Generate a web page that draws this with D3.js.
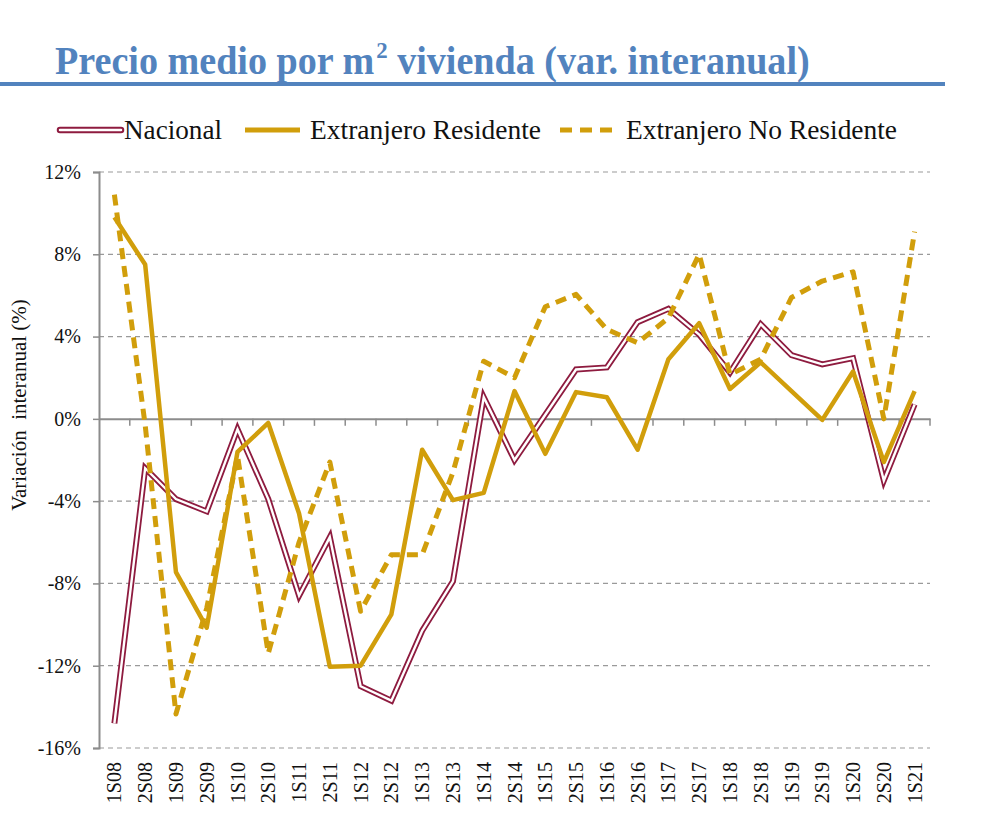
<!DOCTYPE html>
<html><head><meta charset="utf-8">
<script src="https://cdn.jsdelivr.net/npm/d3@7"></script>
<style>body{margin:0;background:#fff;} svg{display:block;}</style>
</head><body>
<script>
const categories = ["1S08","2S08","1S09","2S09","1S10","2S10","1S11","2S11","1S12","2S12","1S13","2S13","1S14","2S14","1S15","2S15","1S16","2S16","1S17","2S17","1S18","2S18","1S19","2S19","1S20","2S20","1S21"];
const nacional = [-14.8,-2.4,-3.9,-4.5,-0.5,-3.9,-8.6,-5.75,-13.0,-13.7,-10.3,-7.9,1.05,-2.0,0.2,2.4,2.5,4.7,5.35,4.1,2.25,4.6,3.1,2.65,2.95,-3.0,0.7];
const residente = [9.8,7.5,-7.45,-10.15,-1.6,-0.2,-4.6,-12.05,-12.0,-9.5,-1.5,-3.95,-3.6,1.35,-1.7,1.3,1.05,-1.5,2.9,4.65,1.45,2.75,1.35,-0.05,2.3,-2.1,1.35];
const noResidente = [10.9,-0.3,-14.35,-9.2,-1.8,-11.4,-6.0,-2.1,-9.35,-6.6,-6.6,-2.6,2.8,2.0,5.45,6.05,4.35,3.7,4.9,8.0,2.15,2.9,5.9,6.7,7.15,0.0,9.1];
const yTicks = [12,8,4,0,-4,-8,-12,-16];
const seriesNames = ["Nacional","Extranjero Residente","Extranjero No Residente"];

const W = 1000, H = 822;
const maroon = "#8E1B3F", gold = "#D19E0B", axisCol = "#8c8c8c", titleCol = "#5283BE";
const svg = d3.select("body").append("svg").attr("width", W).attr("height", H);
const serif = "'Liberation Serif','Times New Roman',serif";

// Title
const title = svg.append("text").attr("x", 55).attr("y", 74)
  .attr("font-family", serif).attr("font-weight", "bold").attr("font-size", 40)
  .attr("fill", titleCol);
title.append("tspan").text("Precio medio por m");
title.append("tspan").attr("dx", 2).attr("dy", -16).attr("font-size", 24).text("2");
title.append("tspan").attr("dy", 16).text(" vivienda (var. interanual)");
// fit title to reference width
const tw = title.node().getComputedTextLength();
title.attr("transform", `translate(55,0) scale(${753 / tw},1) translate(-55,0)`);
svg.append("rect").attr("x", 0).attr("y", 82).attr("width", 945).attr("height", 4).attr("fill", titleCol);

// Scales
const x = d3.scaleBand().domain(categories).range([99, 930]).padding(0);
const y = d3.scaleLinear().domain([-16, 12]).range([748, 172]);
const cx = d => x(d) + x.bandwidth() / 2;

// Gridlines
svg.append("g").selectAll("line").data(yTicks.filter(t => t !== 0)).join("line")
  .attr("x1", 99).attr("x2", 930).attr("y1", d => y(d)).attr("y2", d => y(d))
  .attr("stroke", "#9a9a9a").attr("stroke-width", 1.2).attr("stroke-dasharray", "5,4");

// Y axis
const yAxis = svg.append("g").attr("transform", "translate(99,0)")
  .call(d3.axisLeft(y).tickValues(yTicks).tickSize(6).tickPadding(12).tickFormat(d => d + "%"));
yAxis.select(".domain").attr("stroke", axisCol).attr("stroke-width", 2);
yAxis.selectAll(".tick line").attr("stroke", axisCol).attr("stroke-width", 1.5);
yAxis.selectAll("text").attr("font-family", serif).attr("font-size", 20).attr("fill", "#111");

// X axis at 0
const xAxis = svg.append("g").attr("transform", `translate(0,${y(0)})`)
  .call(d3.axisBottom(x).tickSize(0).tickFormat(""));
xAxis.select(".domain").attr("stroke", axisCol).attr("stroke-width", 2);
xAxis.selectAll(".tick").remove();
xAxis.selectAll("line.bt").data(categories).join("line").attr("class", "bt")
  .attr("x1", d => x(d) + x.bandwidth()).attr("x2", d => x(d) + x.bandwidth())
  .attr("y1", 0).attr("y2", 7).attr("stroke", axisCol).attr("stroke-width", 1.5);

// X labels at bottom
svg.append("g").selectAll("text").data(categories).join("text")
  .attr("transform", d => `translate(${cx(d) + 7},762) rotate(-90)`)
  .attr("text-anchor", "end").attr("font-family", serif).attr("font-size", 20).attr("fill", "#111")
  .text(d => d);

// Y axis title
svg.append("text").attr("transform", "translate(26,405) rotate(-90)")
  .attr("text-anchor", "middle").attr("font-family", serif).attr("font-size", 21).attr("fill", "#111")
  .attr("xml:space", "preserve").text("Variación  interanual (%)");

// Lines
const line = d3.line().x((d, i) => cx(categories[i])).y(d => y(d)).curve(d3.curveLinear);
svg.append("path").datum(nacional).attr("d", line).attr("fill", "none")
  .attr("stroke", maroon).attr("stroke-width", 6).attr("stroke-linejoin", "miter");
svg.append("path").datum(nacional).attr("d", line).attr("fill", "none")
  .attr("stroke", "#fff").attr("stroke-width", 2.4).attr("stroke-linejoin", "miter");
svg.append("path").datum(noResidente).attr("d", line).attr("fill", "none")
  .attr("stroke", gold).attr("stroke-width", 5).attr("stroke-dasharray", "11,7").attr("stroke-linejoin", "round");
svg.append("path").datum(residente).attr("d", line).attr("fill", "none")
  .attr("stroke", gold).attr("stroke-width", 4.5).attr("stroke-linejoin", "round");

// Legend
const lg = svg.append("g");
const ly = 130;
lg.append("line").attr("x1", 60).attr("x2", 121).attr("y1", ly).attr("y2", ly)
  .attr("stroke", maroon).attr("stroke-width", 6.5).attr("stroke-linecap", "round");
lg.append("line").attr("x1", 60).attr("x2", 121).attr("y1", ly).attr("y2", ly)
  .attr("stroke", "#fff").attr("stroke-width", 2.5).attr("stroke-linecap", "round");
lg.append("line").attr("x1", 245).attr("x2", 300).attr("y1", ly).attr("y2", ly)
  .attr("stroke", gold).attr("stroke-width", 5);
lg.append("line").attr("x1", 560).attr("x2", 612).attr("y1", ly).attr("y2", ly)
  .attr("stroke", gold).attr("stroke-width", 5).attr("stroke-dasharray", "12,8");
const legPos = [[124, 98], [310, 231], [626, 271]];
lg.selectAll("text").data(seriesNames).join("text")
  .attr("x", (d, i) => legPos[i][0]).attr("y", ly + 9)
  .attr("textLength", (d, i) => legPos[i][1]).attr("lengthAdjust", "spacingAndGlyphs")
  .attr("font-family", serif).attr("font-size", 27).attr("fill", "#111").text(d => d);
</script>
</body></html>
